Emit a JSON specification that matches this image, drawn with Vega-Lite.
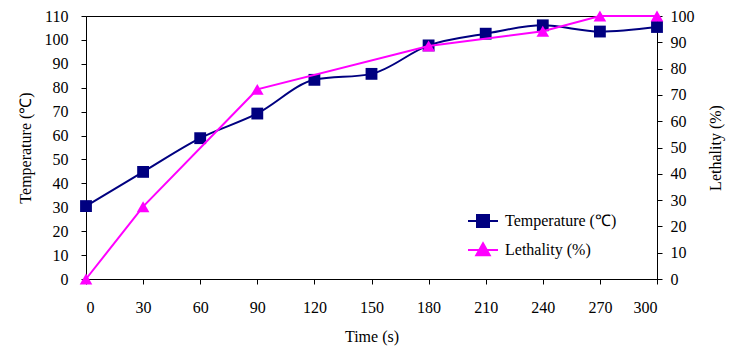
{
  "$schema": "https://vega.github.io/schema/vega-lite/v6.json",
  "width": 571,
  "height": 263,
  "autosize": "none",
  "padding": {"left": 86, "top": 16, "right": 74, "bottom": 67},
  "background": "white",
  "config": {
    "view": {"stroke": "black", "strokeWidth": 1},
    "font": "Liberation Serif",
    "axis": {
      "grid": false,
      "domainColor": "black",
      "tickColor": "black",
      "tickSize": 5,
      "labelColor": "black",
      "labelFont": "Liberation Serif",
      "labelFontSize": 16,
      "titleFont": "Liberation Serif",
      "titleFontSize": 16,
      "titleFontWeight": "normal",
      "titleColor": "black"
    },
    "legend": {
      "labelFont": "Liberation Serif",
      "labelFontSize": 16,
      "labelColor": "black"
    }
  },
  "datasets": {
    "temp": [
      {"time": 0, "value": 30.5},
      {"time": 30, "value": 44.8},
      {"time": 60, "value": 58.9},
      {"time": 90, "value": 69.2},
      {"time": 120, "value": 83.3},
      {"time": 150, "value": 85.8},
      {"time": 180, "value": 97.7},
      {"time": 210, "value": 102.6},
      {"time": 240, "value": 106.1},
      {"time": 270, "value": 103.5},
      {"time": 300, "value": 105.4}
    ],
    "leth": [
      {"time": 0, "value": 0},
      {"time": 30, "value": 27.5},
      {"time": 90, "value": 72.1},
      {"time": 180, "value": 88.6},
      {"time": 240, "value": 94.2},
      {"time": 270, "value": 100},
      {"time": 300, "value": 100}
    ]
  },
  "encoding": {
    "x": {
      "field": "time",
      "type": "quantitative",
      "scale": {"domain": [0, 300], "nice": false},
      "axis": {"values": [0, 30, 60, 90, 120, 150, 180, 210, 240, 270, 300], "title": "Time (s)", "labelPadding": 15, "titlePadding": 13}
    }
  },
  "layer": [
    {
      "data": {"name": "temp"},
      "encoding": {
        "y": {
          "field": "value",
          "type": "quantitative",
          "scale": {"domain": [0, 110], "nice": false},
          "axis": {"orient": "left", "title": "Temperature (℃)", "values": [0,10,20,30,40,50,60,70,80,90,100,110], "labelPadding": 13, "titlePadding": 11}
        },
        "color": {
          "datum": "Temperature (℃)",
          "type": "nominal",
          "scale": {"domain": ["Temperature (℃)", "Lethality (%)"], "range": ["#000080", "#FF00FF"]},
          "legend": {
            "title": null,
            "orient": "none",
            "legendX": 381,
            "legendY": 189,
            "symbolSize": 900,
            "symbolType": "M-1,0H1M-0.4,-0.4H0.4V0.4H-0.4Z",
            "rowPadding": 3,
            "labelOffset": 6,
            "encode": {
              "symbols": {
                "update": {
                  "shape": {"signal": "datum.value === 'Temperature (℃)' ? 'M-1,0H1M-0.4,-0.4H0.4V0.4H-0.4Z' : 'M-1,0H1M0,-0.45L0.45,0.35H-0.45Z'"},
                  "fill": {"signal": "datum.value === 'Temperature (℃)' ? '#000080' : '#FF00FF'"},
                  "stroke": {"signal": "datum.value === 'Temperature (℃)' ? '#000080' : '#FF00FF'"},
                  "strokeWidth": {"value": 2},
                  "opacity": {"value": 1}
                }
              }
            }
          }
        }
      },
      "layer": [
        {"mark": {"type": "line", "strokeWidth": 2, "interpolate": "monotone"}},
        {"mark": {"type": "point", "shape": "square", "filled": true, "opacity": 1, "size": 140}}
      ]
    },
    {
      "data": {"name": "leth"},
      "encoding": {
        "y": {
          "field": "value",
          "type": "quantitative",
          "scale": {"domain": [0, 100], "nice": false},
          "axis": {"orient": "right", "title": "Lethality (%)", "titleAngle": 270, "titleBaseline": "bottom", "values": [0,10,20,30,40,50,60,70,80,90,100], "labelPadding": 8, "titlePadding": 29}
        },
        "color": {"datum": "Lethality (%)", "type": "nominal"}
      },
      "layer": [
        {"mark": {"type": "line", "strokeWidth": 2}},
        {"mark": {"type": "point", "shape": "triangle-up", "filled": true, "opacity": 1, "size": 160}}
      ]
    }
  ],
  "resolve": {"scale": {"y": "independent"}}
}
